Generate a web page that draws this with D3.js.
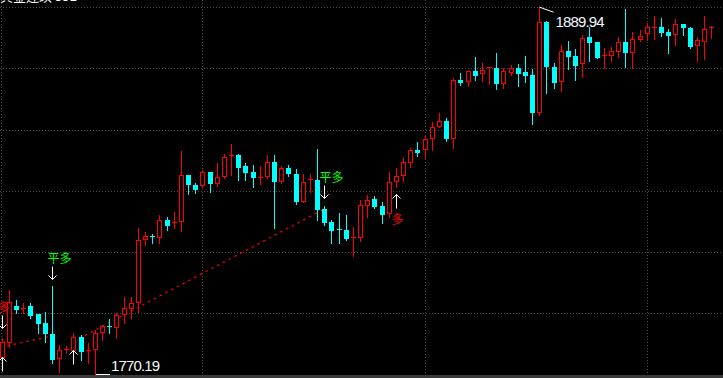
<!DOCTYPE html>
<meta charset='utf-8'>
<head>
    <title>K线</title>
    <script src='https://cdn.jsdelivr.net/npm/d3@7/dist/d3.min.js'></script>
</head>

<style>
    body {
        margin: 0;
        background: #000;
        overflow: hidden;
    }

    svg {
        display: block;
        background: #000;
    }

    .grid line {
        stroke: #4a4a4a;
        stroke-width: 1px;
        stroke-dasharray: 1, 2;
        shape-rendering: crispEdges;
    }

    .sig text {
        font-family: 'Noto Sans CJK SC', sans-serif;
        font-size: 12px;
    }

    .mark text {
        font-family: 'Liberation Sans', Arial, sans-serif;
        font-size: 15px;
        fill: #f4f8ff;
    }
</style>

<svg></svg>

<script>
    var vWidth = 723;
    var vHeight = 378;

    // 100 bars, index 0..99
    var vBars = d3.range(100);

    var vOpen = [
        1775.71, 1780.61, 1792.46, 1791.6, 1792.37, 1789.76, 1786.82, 1783.22, 1775.39, 1778.2,
        1778.0, 1782.24, 1777.9, 1778.33, 1783.88, 1785.84, 1785.51, 1789.76, 1791.71, 1793.67,
        1814.24, 1815.1, 1814.9, 1820.45, 1819.7, 1820.12, 1835.14, 1831.88, 1831.88, 1836.12,
        1832.53, 1834.82, 1841.6, 1841.67, 1838.08, 1836.12, 1834.4, 1834.82, 1839.39, 1833.18,
        1837.53, 1835.47, 1826.75, 1833.7, 1833.51, 1824.04, 1819.8, 1817.6, 1817.18, 1814.8,
        1815.0, 1825.35, 1827.31, 1825.02, 1822.73, 1833.28, 1835.14, 1839.49, 1843.31, 1843.73,
        1847.22, 1851.14, 1852.78, 1847.22, 1866.16, 1865.84, 1869.2, 1868.35, 1870.1, 1870.08,
        1865.09, 1868.87, 1870.08, 1868.87, 1867.8, 1855.81, 1885.2, 1870.51, 1865.93, 1875.63,
        1874.0, 1871.62, 1880.1, 1878.57, 1874.1, 1874.42, 1875.73, 1878.57, 1875.4, 1879.55,
        1881.61, 1883.3, 1883.37, 1881.74, 1881.09, 1884.45, 1883.04, 1877.59, 1879.0, 1883.3
    ];
    var vHigh = [
        1781.92, 1797.59, 1794.33, 1793.35, 1793.35, 1789.8, 1790.41, 1798.9, 1779.63, 1779.31,
        1783.55, 1782.9, 1780.29, 1784.53, 1786.16, 1788.12, 1790.08, 1795.31, 1795.31, 1817.84,
        1816.53, 1815.88, 1822.08, 1821.43, 1823.06, 1842.98, 1835.2, 1832.53, 1836.78, 1836.2,
        1839.06, 1842.0, 1845.27, 1842.0, 1839.06, 1838.41, 1838.08, 1841.67, 1841.67, 1838.08,
        1838.41, 1837.1, 1835.47, 1835.47, 1843.63, 1825.12, 1820.45, 1822.73, 1822.08, 1818.26,
        1826.98, 1828.61, 1828.29, 1826.33, 1836.12, 1837.53, 1841.12, 1843.96, 1845.92, 1847.88,
        1852.45, 1855.39, 1853.76, 1866.82, 1868.45, 1869.1, 1873.67, 1871.71, 1870.51, 1875.08,
        1870.08, 1870.96, 1871.39, 1874.0, 1869.76, 1889.94, 1885.53, 1871.62, 1877.59, 1878.9,
        1876.29, 1880.86, 1883.57, 1878.6, 1876.51, 1876.84, 1880.3, 1889.35, 1881.84, 1882.49,
        1884.68, 1887.16, 1886.31, 1882.72, 1885.98, 1884.5, 1883.37, 1880.11, 1887.06, 1883.89
    ];
    var vLow = [
        1774.08, 1778.98, 1790.18, 1790.18, 1788.45, 1783.55, 1780.61, 1773.76, 1770.82, 1777.02,
        1778.0, 1774.73, 1773.76, 1770.19, 1781.27, 1783.55, 1781.92, 1786.82, 1788.45, 1790.41,
        1812.29, 1812.94, 1812.94, 1817.18, 1817.84, 1816.86, 1828.94, 1829.27, 1831.22, 1829.59,
        1831.55, 1834.16, 1835.14, 1833.51, 1833.51, 1831.22, 1832.2, 1834.16, 1817.84, 1832.53,
        1834.82, 1825.67, 1826.42, 1829.59, 1820.45, 1818.82, 1813.04, 1813.04, 1813.92, 1808.79,
        1813.59, 1821.53, 1824.47, 1819.57, 1821.53, 1831.32, 1833.28, 1837.76, 1841.35, 1840.79,
        1843.31, 1850.82, 1846.24, 1843.96, 1864.53, 1864.2, 1866.16, 1865.84, 1864.86, 1863.22,
        1863.65, 1867.8, 1864.2, 1865.61, 1851.8, 1854.73, 1862.02, 1863.45, 1862.67, 1869.76,
        1866.16, 1867.24, 1872.37, 1873.44, 1870.18, 1872.37, 1873.77, 1870.51, 1870.18, 1879.0,
        1879.22, 1879.55, 1880.53, 1875.08, 1877.59, 1880.96, 1876.51, 1872.37, 1873.02, 1879.98
    ];
    var vClose = [
        1780.61, 1793.67, 1791.39, 1791.8, 1789.43, 1786.82, 1783.55, 1775.06, 1778.0, 1778.4,
        1782.24, 1777.67, 1778.1, 1783.55, 1785.84, 1785.51, 1789.43, 1791.71, 1793.35, 1813.92,
        1815.22, 1814.9, 1820.45, 1818.82, 1819.9, 1835.14, 1832.2, 1830.57, 1836.12, 1832.53,
        1834.49, 1841.02, 1841.8, 1837.76, 1836.12, 1834.49, 1834.6, 1839.39, 1833.18, 1837.43,
        1835.7, 1826.75, 1832.86, 1833.9, 1824.04, 1819.89, 1817.18, 1817.4, 1814.67, 1815.0,
        1825.35, 1826.98, 1825.02, 1822.41, 1832.86, 1834.82, 1839.39, 1843.31, 1842.8, 1846.9,
        1850.82, 1852.78, 1847.22, 1866.16, 1865.51, 1869.1, 1867.9, 1869.43, 1870.3, 1865.09,
        1869.1, 1869.98, 1868.55, 1867.9, 1855.81, 1885.0, 1870.73, 1865.51, 1875.53, 1874.0,
        1871.06, 1879.78, 1878.67, 1873.77, 1874.3, 1875.53, 1878.57, 1875.4, 1879.45, 1880.63,
        1883.37, 1883.5, 1881.93, 1880.96, 1884.45, 1883.37, 1877.36, 1879.22, 1882.72, 1883.5
    ];

    // grid
    var vGridPrices = [1890, 1870, 1850, 1830, 1810, 1790];
    var vGridBars = [28, 59, 90];

    // trade signals
    var vSignalBars = [0, 0, 7, 10, 45, 55];
    var vSignalKinds = ['down', 'up', 'down', 'up', 'down', 'up'];
    var vSignalTexts = ['多', '', '平多', '', '平多', '多'];
    var vSignalPrices = [1785.18, 1775.71, 1801.18, 1778.0, 1827.53, 1828.94];

    // trade lines (entry -> exit)
    var vTradeFromBars = [-1, 10];
    var vTradeFromPrices = [1778.46, 1780.74];
    var vTradeToBars = [7, 45];
    var vTradeToPrices = [1782.57, 1824.04];

    var vTitle = '黄金连续 55E';

    var cRed = '#ff0000';
    var cCyan = '#00ffff';

    var svg = d3.select('svg').attr('width', vWidth).attr('height', vHeight);

    // scales
    var x = d3.scaleLinear().domain([0, 99]).range([1.7, 711.3]);
    var y = d3.scaleLinear().domain([1770, 1890]).range([374.5, 7]);

    function cx(i) { return Math.round(x(i)) + 0.5; }
    function py(p) { return Math.round(y(p)); }

    svg.append('defs').append('clipPath').attr('id', 'clip')
        .append('rect').attr('x', 0).attr('y', 0).attr('width', vWidth).attr('height', 375);

    // grid
    var grid = svg.append('g').attr('class', 'grid');
    grid.selectAll('line.h').data(vGridPrices).enter().append('line')
        .attr('class', 'h')
        .attr('x1', 0).attr('x2', vWidth)
        .attr('y1', function (d) { return py(d) + 0.5; })
        .attr('y2', function (d) { return py(d) + 0.5; });
    grid.selectAll('line.v').data(vGridBars).enter().append('line')
        .attr('class', 'v')
        .attr('x1', function (d) { return cx(d); })
        .attr('x2', function (d) { return cx(d); })
        .attr('y1', 0).attr('y2', 375);
    grid.append('line')
        .attr('x1', 1.5).attr('x2', 1.5).attr('y1', 0).attr('y2', 375);

    // bottom border
    svg.append('rect').attr('x', 0).attr('y', 375).attr('width', vWidth).attr('height', 3)
        .attr('fill', '#3a3a3a');

    var g = svg.append('g').attr('clip-path', 'url(#clip)');

    // trade lines
    g.selectAll('line.trade').data(d3.range(vTradeFromBars.length)).enter().append('line')
        .attr('class', 'trade')
        .attr('x1', function (d) { return x(vTradeFromBars[d]); })
        .attr('y1', function (d) { return y(vTradeFromPrices[d]); })
        .attr('x2', function (d) { return x(vTradeToBars[d]); })
        .attr('y2', function (d) { return y(vTradeToPrices[d]); })
        .attr('stroke', cRed)
        .attr('stroke-width', 1.2)
        .attr('stroke-dasharray', '2.5,4');

    // candles
    function isUp(i) { return vClose[i] >= vOpen[i]; }

    var candles = g.selectAll('g.candle').data(vBars).enter().append('g')
        .attr('class', 'candle')
        .attr('shape-rendering', 'crispEdges');

    candles.append('line')
        .attr('x1', function (d) { return cx(d); })
        .attr('x2', function (d) { return cx(d); })
        .attr('y1', function (d) { return py(vHigh[d]); })
        .attr('y2', function (d) { return py(vLow[d]) + 1; })
        .attr('stroke', function (d) { return isUp(d) ? cRed : cCyan; });

    candles.each(function (d) {
        var top = py(Math.max(vOpen[d], vClose[d]));
        var bot = py(Math.min(vOpen[d], vClose[d]));
        var sel = d3.select(this);
        if (bot - top < 2) {
            sel.append('rect')
                .attr('x', cx(d) - 2.5).attr('y', top).attr('width', 5).attr('height', 1)
                .attr('fill', isUp(d) ? cRed : cCyan);
        } else if (isUp(d)) {
            sel.append('rect')
                .attr('x', cx(d) - 2).attr('y', top + 0.5).attr('width', 4).attr('height', bot - top)
                .attr('fill', '#000').attr('stroke', cRed).attr('stroke-width', 1);
        } else {
            sel.append('rect')
                .attr('x', cx(d) - 2.5).attr('y', top).attr('width', 5).attr('height', bot - top + 1)
                .attr('fill', cCyan);
        }
    });

    // signals: arrow + label
    var sig = g.selectAll('g.sig').data(d3.range(vSignalBars.length)).enter().append('g')
        .attr('class', 'sig');

    sig.append('path')
        .attr('d', function (d) {
            var ax = cx(vSignalBars[d]);
            var ay = py(vSignalPrices[d]) + 0.5;
            if (vSignalKinds[d] == 'down') {
                return 'M' + ax + ',' + (ay - 13) + 'V' + ay +
                    'M' + (ax - 4) + ',' + (ay - 4) + 'L' + ax + ',' + ay + 'L' + (ax + 4) + ',' + (ay - 4);
            }
            return 'M' + ax + ',' + (ay + 14) + 'V' + ay +
                'M' + (ax - 4) + ',' + (ay + 4) + 'L' + ax + ',' + ay + 'L' + (ax + 4) + ',' + (ay + 4);
        })
        .attr('fill', 'none')
        .attr('stroke', '#fff')
        .attr('stroke-width', 1);

    sig.filter(function (d) { return vSignalTexts[d] != ''; })
        .append('text')
        .attr('x', function (d) { return cx(vSignalBars[d]) - 5; })
        .attr('y', function (d) {
            var ay = py(vSignalPrices[d]);
            return vSignalKinds[d] == 'down' ? ay - 16 : ay + 30;
        })
        .attr('fill', function (d) { return vSignalTexts[d].charAt(0) == '平' ? '#00ff00' : cRed; })
        .text(function (d) { return vSignalTexts[d]; });

    // high / low markers
    var iHigh = d3.maxIndex(vHigh);
    var iLow = d3.minIndex(vLow);
    var mark = svg.append('g').attr('class', 'mark');

    mark.append('line')
        .attr('x1', cx(iHigh)).attr('y1', y(vHigh[iHigh]))
        .attr('x2', cx(iHigh) + 14).attr('y2', y(vHigh[iHigh]) + 5)
        .attr('stroke', '#fff').attr('stroke-width', 1);
    mark.append('text')
        .attr('x', cx(iHigh) + 16).attr('y', y(vHigh[iHigh]) + 20)
        .attr('textLength', 49).attr('lengthAdjust', 'spacing')
        .text(d3.format('.2f')(vHigh[iHigh]));

    mark.append('line')
        .attr('x1', cx(iLow)).attr('y1', py(vLow[iLow]) + 0.5)
        .attr('x2', cx(iLow) + 14).attr('y2', py(vLow[iLow]) + 0.5)
        .attr('stroke', '#fff').attr('stroke-width', 1)
        .attr('shape-rendering', 'crispEdges');
    mark.append('text')
        .attr('x', cx(iLow) + 15.5).attr('y', py(vLow[iLow]) - 3.5)
        .attr('textLength', 49).attr('lengthAdjust', 'spacing')
        .text(d3.format('.2f')(vLow[iLow]));

    // clipped title at the very top
    svg.append('text')
        .attr('x', 0).attr('y', 1)
        .attr('fill', '#fff')
        .style('font-family', "'Noto Sans CJK SC', sans-serif")
        .style('font-size', '13px')
        .text(vTitle);
</script>
